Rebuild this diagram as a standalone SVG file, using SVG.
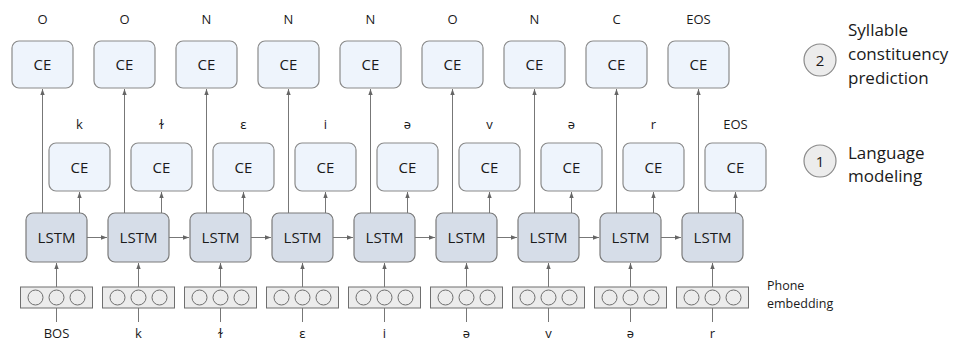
<svg xmlns="http://www.w3.org/2000/svg" width="959" height="342" viewBox="0 0 959 342">
<style>
.ce{fill:#eef4fc;stroke:#8a8a8a;stroke-width:1.2}
.lstm{fill:#d6dde8;stroke:#7a7a7a;stroke-width:1.2}
.emb{fill:#ececec;stroke:#6f6f6f;stroke-width:1}
.dot{fill:none;stroke:#6f6f6f;stroke-width:1}
.ln{stroke:#777;stroke-width:1;fill:none}
.t{font-family:"Open Sans","Noto Sans",sans-serif;fill:#1a1a1a;text-anchor:middle}
.box{font-size:15px}
.lab{font-size:13px}
.leg{font-family:"Open Sans","Noto Sans",sans-serif;fill:#1a1a1a;font-size:17px}
.small{font-family:"Open Sans","Noto Sans",sans-serif;fill:#1a1a1a;font-size:12.5px}
.lc{fill:#ececec;stroke:#8a8a8a;stroke-width:1.2}
</style>
<defs>
<marker id="ah" viewBox="0 0 6 6" refX="6" refY="3" markerWidth="6" markerHeight="6" markerUnits="userSpaceOnUse" orient="auto">
<path d="M0,0.8 L6,3 L0,5.2 Z" fill="#666"/>
</marker>
<g id="col">
<rect class="ce" x="12" y="41" width="61" height="47" rx="7"/>
<text class="t box" x="42.5" y="70">CE</text>
<rect class="ce" x="49" y="143" width="61" height="48" rx="7"/>
<text class="t box" x="79.5" y="172.5">CE</text>
<rect class="lstm" x="26" y="213" width="61" height="49" rx="7"/>
<text class="t box" x="56.5" y="243">LSTM</text>
<rect class="emb" x="20.5" y="287" width="72" height="21"/>
<circle class="dot" cx="35.5" cy="297.5" r="7.5"/>
<circle class="dot" cx="56.5" cy="297.5" r="7.5"/>
<circle class="dot" cx="77.5" cy="297.5" r="7.5"/>
</g>
</defs>
<g id="nodes">
<g id="n0"><use href="#col"/></g>
<g id="n1"><use href="#col" x="82"/></g>
<g id="n2"><use href="#col" x="164"/></g>
<g id="n3"><use href="#col" x="246"/></g>
<g id="n4"><use href="#col" x="328"/></g>
<g id="n5"><use href="#col" x="410"/></g>
<g id="n6"><use href="#col" x="492"/></g>
<g id="n7"><use href="#col" x="574"/></g>
<g id="n8"><use href="#col" x="656"/></g>
</g>
<g id="connectors">
<g id="c-top">
<path class="ln" marker-end="url(#ah)" d="M42.5,213V89"/>
<path class="ln" marker-end="url(#ah)" d="M124.5,213V89"/>
<path class="ln" marker-end="url(#ah)" d="M206.5,213V89"/>
<path class="ln" marker-end="url(#ah)" d="M288.5,213V89"/>
<path class="ln" marker-end="url(#ah)" d="M370.5,213V89"/>
<path class="ln" marker-end="url(#ah)" d="M452.5,213V89"/>
<path class="ln" marker-end="url(#ah)" d="M534.5,213V89"/>
<path class="ln" marker-end="url(#ah)" d="M616.5,213V89"/>
<path class="ln" marker-end="url(#ah)" d="M698.5,213V89"/>
</g>
<g id="c-mid">
<path class="ln" marker-end="url(#ah)" d="M79.5,213V192"/>
<path class="ln" marker-end="url(#ah)" d="M161.5,213V192"/>
<path class="ln" marker-end="url(#ah)" d="M243.5,213V192"/>
<path class="ln" marker-end="url(#ah)" d="M325.5,213V192"/>
<path class="ln" marker-end="url(#ah)" d="M407.5,213V192"/>
<path class="ln" marker-end="url(#ah)" d="M489.5,213V192"/>
<path class="ln" marker-end="url(#ah)" d="M571.5,213V192"/>
<path class="ln" marker-end="url(#ah)" d="M653.5,213V192"/>
<path class="ln" marker-end="url(#ah)" d="M735.5,213V192"/>
</g>
<g id="c-emb">
<path class="ln" marker-end="url(#ah)" d="M56.5,287V263"/>
<path class="ln" marker-end="url(#ah)" d="M138.5,287V263"/>
<path class="ln" marker-end="url(#ah)" d="M220.5,287V263"/>
<path class="ln" marker-end="url(#ah)" d="M302.5,287V263"/>
<path class="ln" marker-end="url(#ah)" d="M384.5,287V263"/>
<path class="ln" marker-end="url(#ah)" d="M466.5,287V263"/>
<path class="ln" marker-end="url(#ah)" d="M548.5,287V263"/>
<path class="ln" marker-end="url(#ah)" d="M630.5,287V263"/>
<path class="ln" marker-end="url(#ah)" d="M712.5,287V263"/>
</g>
<g id="c-in">
<path class="ln" d="M56.5,308V322M138.5,308V322M220.5,308V322M302.5,308V322M384.5,308V322M466.5,308V322M548.5,308V322M630.5,308V322M712.5,308V322"/>
</g>
<g id="c-rec">
<path class="ln" marker-end="url(#ah)" d="M87,237.5H107"/>
<path class="ln" marker-end="url(#ah)" d="M169,237.5H189"/>
<path class="ln" marker-end="url(#ah)" d="M251,237.5H271"/>
<path class="ln" marker-end="url(#ah)" d="M333,237.5H353"/>
<path class="ln" marker-end="url(#ah)" d="M415,237.5H435"/>
<path class="ln" marker-end="url(#ah)" d="M497,237.5H517"/>
<path class="ln" marker-end="url(#ah)" d="M579,237.5H599"/>
<path class="ln" marker-end="url(#ah)" d="M661,237.5H681"/>
</g>
</g>
<g id="labels-top" class="t lab">
<text x="42.5" y="24">O</text>
<text x="124.5" y="24">O</text>
<text x="206.5" y="24">N</text>
<text x="288.5" y="24">N</text>
<text x="370.5" y="24">N</text>
<text x="452.5" y="24">O</text>
<text x="534.5" y="24">N</text>
<text x="616.5" y="24">C</text>
<text x="698.5" y="24">EOS</text>
</g>
<g id="labels-mid" class="t lab">
<text x="79.5" y="129">k</text>
<text x="161.5" y="129">ɫ</text>
<text x="243.5" y="129">ɛ</text>
<text x="325.5" y="129">i</text>
<text x="407.5" y="129">ə</text>
<text x="489.5" y="129">v</text>
<text x="571.5" y="129">ə</text>
<text x="653.5" y="129">r</text>
<text x="735.5" y="129">EOS</text>
</g>
<g id="labels-in" class="t lab">
<text x="56.5" y="338">BOS</text>
<text x="138.5" y="338">k</text>
<text x="220.5" y="338">ɫ</text>
<text x="302.5" y="338">ɛ</text>
<text x="384.5" y="338">i</text>
<text x="466.5" y="338">ə</text>
<text x="548.5" y="338">v</text>
<text x="630.5" y="338">ə</text>
<text x="712.5" y="338">r</text>
</g>
<g id="legend-2">
<circle class="lc" cx="820" cy="60" r="16"/>
<text class="t" style="font-size:15px" x="820" y="65.5">2</text>
<text class="leg" x="848" y="36">Syllable</text>
<text class="leg" x="848" y="60">constituency</text>
<text class="leg" x="848" y="84">prediction</text>
</g>
<g id="legend-1">
<circle class="lc" cx="820" cy="161" r="16"/>
<text class="t" style="font-size:15px" x="820" y="166.5">1</text>
<text class="leg" x="848" y="159">Language</text>
<text class="leg" x="848" y="182">modeling</text>
</g>
<g id="legend-emb">
<text class="small" x="767" y="290">Phone</text>
<text class="small" x="767" y="308">embedding</text>
</g>
</svg>
